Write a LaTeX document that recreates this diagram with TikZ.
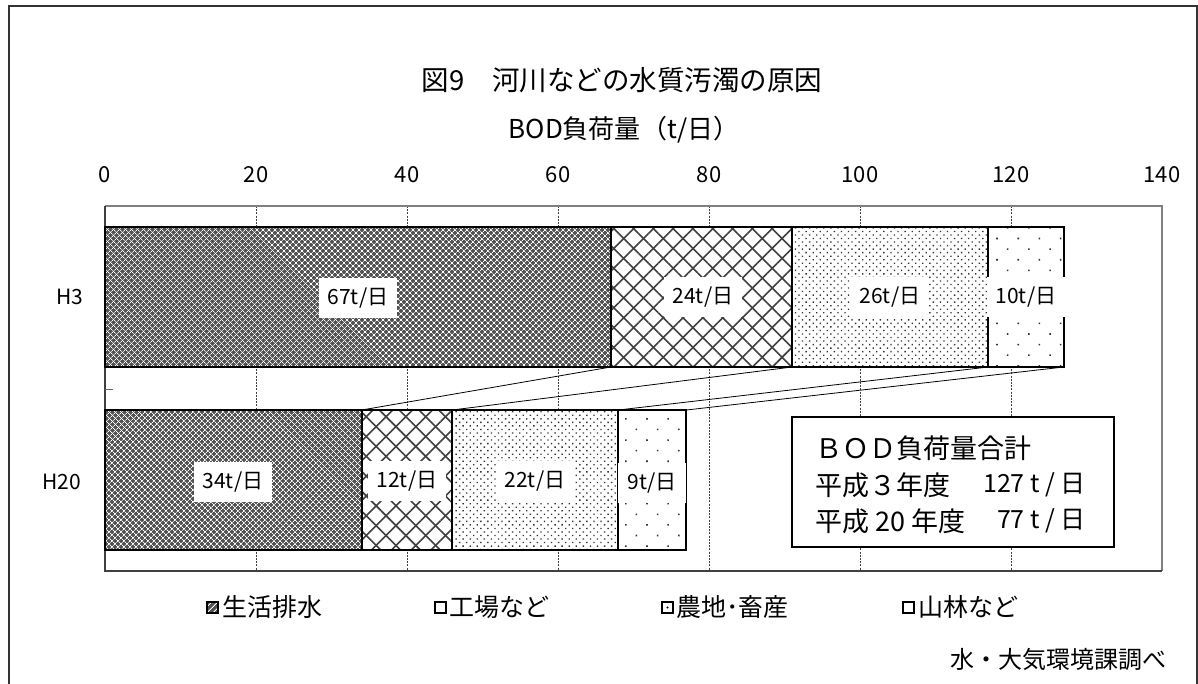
\documentclass[tikz,border=0pt]{standalone}
\usepackage{fontspec}
\setmainfont{Noto Sans CJK JP}
\usetikzlibrary{patterns.meta}
\newcommand{\fsz}[1]{\fontsize{#1pt}{#1pt}\selectfont}
\begin{document}
\begin{tikzpicture}[x=1pt,y=-1pt,
  frameline/.style={black!80,line width=1.4pt},
  gridline/.style={black!75,line width=0.8pt,dash pattern=on 2pt off 1.2pt},
  barline/.style={black,line width=2pt},
  conn/.style={black,line width=0.8pt},
  pAbase/.style={fill=black!68},
  pA1/.style={pattern={Lines[angle=45,distance=4pt,line width=0.8pt]},pattern color=white},
  pA2/.style={pattern={Lines[angle=-45,distance=4pt,line width=0.8pt]},pattern color=white},
  pB1/.style={pattern={Lines[angle=45,distance=14pt,line width=1.6pt]},pattern color=black!75},
  pB2/.style={pattern={Lines[angle=-45,distance=14pt,line width=1.6pt]},pattern color=black!75},
  pC/.style={pattern={Dots[angle=45,distance=5pt,radius=0.95pt]},pattern color=black!80},
  pD/.style={pattern={Dots[angle=45,distance=15pt,radius=1.1pt]},pattern color=black!80},
  seglab/.style={fill=white,inner xsep=9pt,inner ysep=0pt,minimum height=40pt,font=\fsz{21}},
  ticklab/.style={font=\fsz{22}},
  catlab/.style={font=\fsz{21}},
  legtext/.style={anchor=west,font=\fsz{25},inner sep=0pt},
  legbox/.style={draw=black,line width=1.3pt},
  totline/.style={font=\fsz{27},inner sep=0pt},
  totnum/.style={font=\fsz{25},inner sep=0pt,anchor=east}
]
\useasboundingbox (0,0) rectangle (1198,684);
\fill[white] (0,0) rectangle (1198,684);

% outer frame
\draw[frameline] (9,700) -- (9,6) -- (1197,6) -- (1197,700);

% titles
\node[font=\fsz{27.5}] (title) at (622,80) {図9　河川などの水質汚濁の原因};
\node[font=\fsz{26}] (axtitle) at (624,130) {BOD負荷量（t/日）};

% tick labels
\node[ticklab] (t0) at (105,175) {0};
\node[ticklab] (t20) at (256,175) {20};
\node[ticklab] (t40) at (407,175) {40};
\node[ticklab] (t60) at (558,175) {60};
\node[ticklab] (t80) at (709,175) {80};
\node[ticklab] (t100) at (860,175) {100};
\node[ticklab] (t120) at (1011,175) {120};
\node[ticklab] (t140) at (1162,175) {140};

% grid lines
\foreach \gx in {256,407,558,709,860,1011}
  \draw[gridline] (\gx,206) -- (\gx,571);

% plot area border
\draw[black!50,line width=1.8pt] (105,206) -- (1162,206) -- (1162,571);
\draw[black!75,line width=1.5pt] (105,206) -- (105,571) -- (1162,571);
\draw[black!60,line width=1pt] (105,389) -- (113,389);

% H3 bar
\fill[pAbase] (105,227) rectangle (610.9,367);
\fill[pA1] (105,227) rectangle (610.9,367);
\fill[pA2] (105,227) rectangle (610.9,367);
\fill[white] (610.9,227) rectangle (792.1,367);
\fill[pB1] (610.9,227) rectangle (792.1,367);
\fill[pB2] (610.9,227) rectangle (792.1,367);
\fill[white] (792.1,227) rectangle (988.4,367);
\fill[pC] (792.1,227) rectangle (988.4,367);
\fill[white] (988.4,227) rectangle (1063.9,367);
\fill[pD] (988.4,227) rectangle (1063.9,367);
\draw[barline] (105,227) rectangle (610.9,367);
\draw[barline] (610.9,227) rectangle (792.1,367);
\draw[barline] (792.1,227) rectangle (988.4,367);
\draw[barline] (988.4,227) rectangle (1063.9,367);

% H20 bar
\fill[pAbase] (105,410) rectangle (361.7,550);
\fill[pA1] (105,410) rectangle (361.7,550);
\fill[pA2] (105,410) rectangle (361.7,550);
\fill[white] (361.7,410) rectangle (452.3,550);
\fill[pB1] (361.7,410) rectangle (452.3,550);
\fill[pB2] (361.7,410) rectangle (452.3,550);
\fill[white] (452.3,410) rectangle (618.4,550);
\fill[pC] (452.3,410) rectangle (618.4,550);
\fill[white] (618.4,410) rectangle (686.4,550);
\fill[pD] (618.4,410) rectangle (686.4,550);
\draw[barline] (105,410) rectangle (361.7,550);
\draw[barline] (361.7,410) rectangle (452.3,550);
\draw[barline] (452.3,410) rectangle (618.4,550);
\draw[barline] (618.4,410) rectangle (686.4,550);

% connector coordinates
\coordinate (a1) at (610.9,367);
\coordinate (a2) at (792.1,367);
\coordinate (a3) at (988.4,367);
\coordinate (a4) at (1063.9,367);
\coordinate (b1) at (361.7,410);
\coordinate (b2) at (452.3,410);
\coordinate (b3) at (618.4,410);
\coordinate (b4) at (686.4,410);
\draw[conn] (a1) -- (b1);
\draw[conn] (a2) -- (b2);
\draw[conn] (a3) -- (b3);
\draw[conn] (a4) -- (b4);

% segment labels
\node[seglab] (l67) at (358,298) {67t/日};
\node[seglab] (l24) at (703,297) {24t/日};
\node[seglab] (l26) at (890,297) {26t/日};
\node[seglab] (l10) at (1026,297) {10t/日};
\node[seglab] (l34) at (233,482) {34t/日};
\node[seglab] (l12) at (407,481) {12t/日};
\node[seglab] (l22) at (535,481) {22t/日};
\node[seglab] (l9) at (652,483) {9t/日};

% category labels
\node[catlab] (h3) at (70,297) {H3};
\node[catlab] (h20) at (62,482) {H20};

% total box
\draw[black,line width=1.5pt,fill=white] (792,417) rectangle (1114,547);
\node[totline,anchor=west] (tot1) at (815,448) {ＢＯＤ負荷量合計};
\node[totline,anchor=west] (tot2) at (815,485) {平成３年度};
\node[totnum] (tot2n) at (1086,485) {127 t / 日};
\node[totline,anchor=west] (tot3) at (815,521) {平成 20 年度};
\node[totnum] (tot3n) at (1086,521) {77 t / 日};

% legend
\fill[pAbase] (207,602) rectangle (218,613);
\fill[pA1] (207,602) rectangle (218,613);
\draw[legbox] (207,602) rectangle (218,613);
\node[legtext] (lg1) at (222,607) {生活排水};
\draw[legbox,fill=white] (435,602) rectangle (446,613);
\node[legtext] (lg2) at (449,607) {工場など};
\draw[legbox,fill=white] (662,602) rectangle (673,613);
\fill[black] (667.5,607.5) circle (1.1pt);
\node[legtext] (lg3) at (676,607) {農地･畜産};
\draw[legbox,fill=white] (903,602) rectangle (914,613);
\node[legtext] (lg4) at (918,607) {山林など};

% source
\node[fill=white,anchor=west,inner xsep=0pt,inner ysep=0pt,minimum height=38pt,font=\fsz{24}] (src) at (950,659) {水・大気環境課調べ\kern30pt};
\end{tikzpicture}
\end{document}
